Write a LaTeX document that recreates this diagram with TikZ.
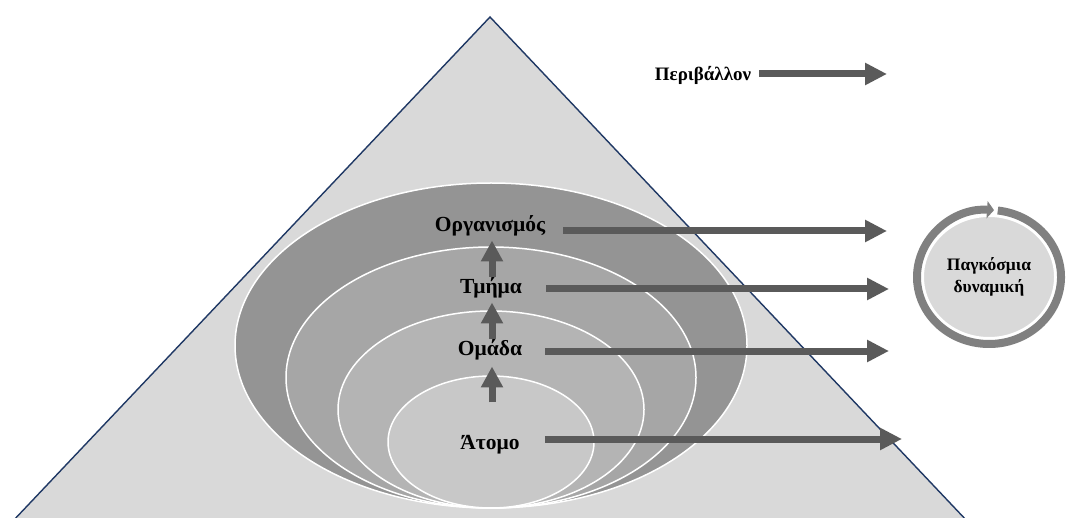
\documentclass[tikz,border=0pt]{standalone}
\usepackage{fontspec}
\setmainfont{Liberation Serif}
\usetikzlibrary{arrows.meta,calc}
\definecolor{pyramid}{HTML}{D9D9D9}
\definecolor{edge}{HTML}{1F3864}
\definecolor{lvlA}{HTML}{949494}
\definecolor{lvlB}{HTML}{A6A6A6}
\definecolor{lvlC}{HTML}{B4B4B4}
\definecolor{lvlD}{HTML}{C8C8C8}
\definecolor{arrowgray}{HTML}{5A5A5A}
\definecolor{ringgray}{HTML}{808080}
\tikzset{
  level/.style={draw=white, line width=1.5pt},
  lbl/.style={font=\bfseries\fontsize{21.5}{24}\selectfont, inner sep=1pt},
  toplbl/.style={font=\bfseries\fontsize{19}{22}\selectfont, inner sep=1pt},
  harrow/.style={draw=arrowgray, line width=7pt, -{Triangle[length=22pt,width=21pt]}},
  varrow/.style={draw=arrowgray, line width=7pt, -{Triangle[length=21pt,width=21pt]}},
  ring/.style={draw=ringgray, line width=8pt, -{Triangle[length=7pt,width=17pt]}},
  gtext/.style={font=\bfseries\fontsize{17.5}{22}\selectfont, align=center, inner sep=0pt}
}
\begin{document}
\begin{tikzpicture}[x=1pt,y=-1pt]
\useasboundingbox (0,0) rectangle (1067,518);
\fill[white] (0,0) rectangle (1067,518);

% pyramid
\filldraw[fill=pyramid, draw=edge, line width=1.4pt] (490,17) -- (12,522) -- (968,522) -- cycle;

% nested levels, all touching at the bottom
\filldraw[level, fill=lvlA] (491,345.5) ellipse [x radius=256pt, y radius=162.5pt];
\filldraw[level, fill=lvlB] (491,377.5) ellipse [x radius=205pt, y radius=130.5pt];
\filldraw[level, fill=lvlC] (491,409.5) ellipse [x radius=153pt, y radius=98.5pt];
\filldraw[level, fill=lvlD] (491,442) ellipse [x radius=103pt, y radius=66pt];

% labels
\node[lbl] (org) at (490,226) {Οργανισμός};
\node[lbl] (tmi) at (491,288) {Τμήμα};
\node[lbl] (oma) at (490,350) {Ομάδα};
\node[lbl] (ato) at (490,445) {Άτομο};
\node[toplbl] (per) at (703,75) {Περιβάλλον};

% arrow ends
\coordinate (tp) at (887,74);
\coordinate (to) at (887,231);
\coordinate (tt) at (889,289);
\coordinate (tm) at (889,351);
\coordinate (ta) at (902,439);
\coordinate (vx) at (492,0);

% horizontal arrows
\draw[harrow] (tp -| per.east) ++(7,0) -- (tp);
\draw[harrow] (to -| org.east) ++(17,0) -- (to);
\draw[harrow] (tt -| tmi.east) ++(23,0) -- (tt);
\draw[harrow] (tm -| oma.east) ++(22,0) -- (tm);
\draw[harrow] (ta -| ato.east) ++(24,0) -- (ta);

% upward arrows between levels
\draw[varrow, shorten <=0pt, shorten >=3pt] (tmi.north -| vx) -- (org.south -| vx);
\draw[varrow, shorten <=0pt, shorten >=3pt] (oma.north -| vx) -- (tmi.south -| vx);
\draw[varrow, shorten <=32pt, shorten >=5pt] (ato.north -| vx) -- (oma.south -| vx);

% global dynamics cycle
\coordinate (gc) at (989,277);
\filldraw[fill=pyramid, draw=white, line width=2pt] (gc) ellipse [x radius=66pt, y radius=61pt];
\draw[ring] ($(gc)+(83:72pt and 67pt)$) arc [start angle=83, end angle=-274, x radius=72pt, y radius=67pt];
\node[gtext] (glob) at (gc) {Παγκόσμια\\δυναμική};
\end{tikzpicture}
\end{document}
